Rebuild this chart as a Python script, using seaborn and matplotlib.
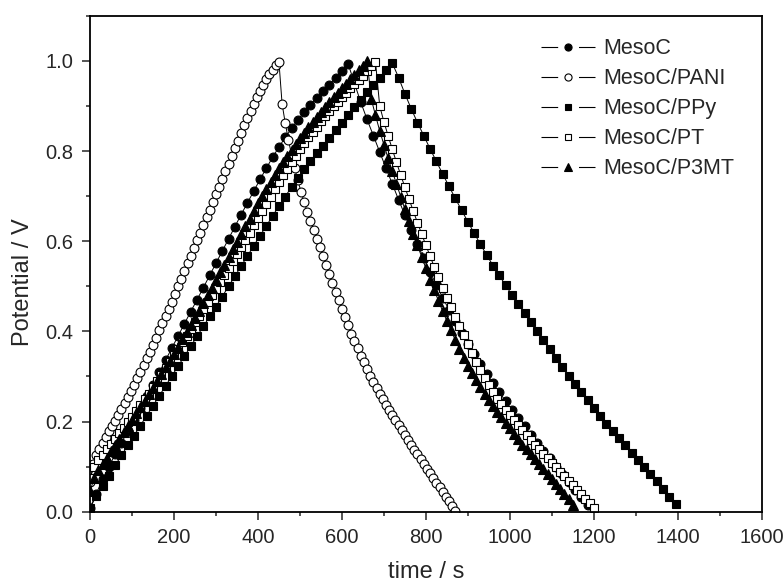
import numpy as np
import pandas as pd
import matplotlib
matplotlib.use("Agg")
import matplotlib.pyplot as plt
from matplotlib.lines import Line2D
from matplotlib.ticker import MultipleLocator, FormatStrFormatter
import seaborn as sns

# potentials (V) read at each recorded point; records are evenly spaced in time
mesoc_dt = 15
mesoc_charge = [0.008, 0.04, 0.072, 0.1, 0.127, 0.153, 0.179, 0.204, 0.23, 0.256,
                0.282, 0.309, 0.336, 0.363, 0.39, 0.417, 0.444, 0.47, 0.497, 0.524,
                0.551, 0.578, 0.605, 0.632, 0.659, 0.685, 0.711, 0.737, 0.762, 0.786,
                0.809, 0.83, 0.85, 0.869, 0.886, 0.902, 0.917, 0.932, 0.947, 0.962,
                0.977, 0.993]
mesoc_discharge = [0.95, 0.908, 0.87, 0.834, 0.798, 0.762, 0.727, 0.692, 0.658, 0.625,
                   0.593, 0.562, 0.532, 0.503, 0.475, 0.448, 0.422, 0.397, 0.373, 0.35,
                   0.328, 0.306, 0.285, 0.265, 0.245, 0.226, 0.207, 0.189, 0.171, 0.153,
                   0.135, 0.118, 0.1, 0.083, 0.066, 0.049, 0.032, 0.015]

pani_dt = 7.5
pani_charge = [0.065, 0.105, 0.125, 0.14, 0.153, 0.166, 0.178, 0.19, 0.202, 0.215,
               0.228, 0.241, 0.254, 0.268, 0.282, 0.296, 0.31, 0.325, 0.34, 0.355,
               0.37, 0.386, 0.402, 0.418, 0.434, 0.45, 0.466, 0.483, 0.5, 0.517,
               0.534, 0.551, 0.568, 0.585, 0.602, 0.619, 0.636, 0.653, 0.67, 0.687,
               0.704, 0.721, 0.738, 0.755, 0.772, 0.789, 0.806, 0.823, 0.84, 0.857,
               0.873, 0.889, 0.905, 0.92, 0.934, 0.947, 0.959, 0.97, 0.98, 0.99,
               0.998]
pani_discharge = [0.905, 0.862, 0.825, 0.792, 0.762, 0.735, 0.71, 0.687, 0.665, 0.645,
                  0.625, 0.605, 0.586, 0.567, 0.548, 0.528, 0.508, 0.488, 0.469, 0.45,
                  0.431, 0.413, 0.395, 0.378, 0.362, 0.346, 0.331, 0.316, 0.302, 0.288,
                  0.275, 0.262, 0.249, 0.237, 0.225, 0.214, 0.203, 0.192, 0.181, 0.17,
                  0.159, 0.148, 0.137, 0.127, 0.116, 0.106, 0.095, 0.085, 0.074, 0.064,
                  0.054, 0.043, 0.033, 0.023, 0.012, 0.002]

ppy_dt = 15
ppy_charge = [0.008, 0.035, 0.058, 0.08, 0.103, 0.125, 0.147, 0.169, 0.191, 0.213,
              0.235, 0.257, 0.279, 0.301, 0.323, 0.345, 0.367, 0.389, 0.411, 0.433,
              0.455, 0.477, 0.5, 0.522, 0.545, 0.567, 0.59, 0.612, 0.634, 0.656,
              0.678, 0.699, 0.72, 0.74, 0.759, 0.777, 0.795, 0.812, 0.829, 0.846,
              0.863, 0.88, 0.897, 0.914, 0.93, 0.946, 0.962, 0.979, 0.995]
ppy_discharge = [0.963, 0.927, 0.894, 0.863, 0.834, 0.805, 0.777, 0.749, 0.722, 0.695,
                 0.669, 0.643, 0.618, 0.593, 0.569, 0.546, 0.524, 0.502, 0.481, 0.461,
                 0.441, 0.421, 0.401, 0.381, 0.361, 0.341, 0.321, 0.302, 0.283, 0.265,
                 0.247, 0.229, 0.212, 0.195, 0.179, 0.163, 0.147, 0.131, 0.115, 0.099,
                 0.083, 0.067, 0.05, 0.033, 0.016]

pt_dt = 10
pt_charge = [0.075, 0.1, 0.114, 0.126, 0.138, 0.15, 0.162, 0.174, 0.186, 0.198,
             0.21, 0.223, 0.236, 0.249, 0.262, 0.276, 0.29, 0.304, 0.318, 0.332,
             0.347, 0.361, 0.376, 0.39, 0.405, 0.42, 0.435, 0.45, 0.465, 0.48,
             0.495, 0.51, 0.525, 0.54, 0.556, 0.571, 0.587, 0.603, 0.619, 0.635,
             0.651, 0.667, 0.683, 0.699, 0.715, 0.731, 0.746, 0.761, 0.776, 0.79,
             0.804, 0.817, 0.83, 0.842, 0.854, 0.866, 0.877, 0.888, 0.899, 0.909,
             0.919, 0.929, 0.939, 0.949, 0.958, 0.967, 0.977, 0.988, 0.998]
pt_discharge = [0.9, 0.865, 0.834, 0.804, 0.775, 0.747, 0.72, 0.693, 0.667, 0.641,
                0.616, 0.591, 0.567, 0.543, 0.52, 0.497, 0.475, 0.453, 0.432, 0.411,
                0.391, 0.371, 0.352, 0.333, 0.315, 0.297, 0.28, 0.265, 0.251, 0.238,
                0.226, 0.215, 0.204, 0.193, 0.182, 0.171, 0.16, 0.149, 0.139, 0.129,
                0.119, 0.109, 0.099, 0.089, 0.079, 0.069, 0.059, 0.049, 0.039, 0.029,
                0.019, 0.009]

p3mt_dt = 10
p3mt_charge = [0.045, 0.075, 0.092, 0.106, 0.12, 0.134, 0.148, 0.162, 0.176, 0.19,
               0.204, 0.218, 0.232, 0.246, 0.26, 0.275, 0.29, 0.305, 0.32, 0.335,
               0.35, 0.366, 0.382, 0.398, 0.414, 0.43, 0.446, 0.463, 0.48, 0.497,
               0.514, 0.531, 0.548, 0.565, 0.582, 0.599, 0.616, 0.633, 0.65, 0.667,
               0.684, 0.7, 0.716, 0.732, 0.747, 0.762, 0.776, 0.79, 0.803, 0.816,
               0.829, 0.841, 0.853, 0.865, 0.876, 0.887, 0.898, 0.909, 0.919, 0.929,
               0.939, 0.949, 0.959, 0.969, 0.979, 0.989, 0.999]
p3mt_discharge = [0.915, 0.879, 0.845, 0.814, 0.784, 0.755, 0.727, 0.699, 0.671, 0.644,
                  0.617, 0.591, 0.565, 0.54, 0.515, 0.491, 0.468, 0.445, 0.423, 0.402,
                  0.381, 0.361, 0.342, 0.324, 0.307, 0.291, 0.276, 0.262, 0.248, 0.235,
                  0.222, 0.209, 0.197, 0.185, 0.173, 0.161, 0.149, 0.138, 0.127, 0.116,
                  0.105, 0.094, 0.083, 0.072, 0.061, 0.05, 0.039, 0.028, 0.015]

samples = ["MesoC", "MesoC/PANI", "MesoC/PPy", "MesoC/PT", "MesoC/P3MT"]
records = [(mesoc_dt, mesoc_charge, mesoc_discharge),
           (pani_dt, pani_charge, pani_discharge),
           (ppy_dt, ppy_charge, ppy_discharge),
           (pt_dt, pt_charge, pt_discharge),
           (p3mt_dt, p3mt_charge, p3mt_discharge)]

frames = []
for name, (dt, charge, discharge) in zip(samples, records):
    v = charge + discharge
    frames.append(pd.DataFrame({"sample": name,
                                "time": dt * np.arange(len(v)),
                                "potential": v}))
df = pd.concat(frames, ignore_index=True)

# Origin-like look
sns.set_style("ticks")
plt.rcParams["font.family"] = ["Liberation Sans", "DejaVu Sans"]
plt.rcParams["lines.scale_dashes"] = False

markers = {"MesoC": ("o", "black", 6.4),
           "MesoC/PANI": ("o", "white", 6.4),
           "MesoC/PPy": ("s", "black", 5.5),
           "MesoC/PT": ("s", "white", 5.5),
           "MesoC/P3MT": ("^", "black", 6.6)}

fig = plt.figure(figsize=(7.84, 5.83), dpi=100)
ax = fig.add_axes([0.1148, 0.1223, 0.8568, 0.8507])

handles = []
for name in samples:
    m, face, ms = markers[name]
    sns.lineplot(data=df[df["sample"] == name], x="time", y="potential", ax=ax,
                 color="black", lw=0.7, marker=m, markersize=ms,
                 markerfacecolor=face, markeredgecolor="black", markeredgewidth=0.8,
                 estimator=None, sort=False, legend=False)
    handles.append(Line2D([], [], color="black", lw=0.8, dashes=(12, 15, 12, 40),
                          marker=m, markersize=ms * 0.8, markerfacecolor=face,
                          markeredgecolor="black", markeredgewidth=0.8, label=name))

ax.set_xlim(0, 1600)
ax.set_ylim(0, 1.1)
ax.xaxis.set_major_locator(MultipleLocator(200))
ax.xaxis.set_minor_locator(MultipleLocator(100))
ax.yaxis.set_major_locator(MultipleLocator(0.2))
ax.yaxis.set_minor_locator(MultipleLocator(0.1))
ax.yaxis.set_major_formatter(FormatStrFormatter("%.1f"))
ax.tick_params(which="major", direction="out", length=6, width=1.1,
               labelsize=14.5, pad=6, top=False, right=False)
ax.tick_params(which="minor", direction="out", length=3, width=1.1,
               top=False, right=False)
for s in ax.spines.values():
    s.set_linewidth(1.3)
    s.set_color("black")

ax.set_xlabel("time / s", fontsize=17, labelpad=10)
ax.set_ylabel("Potential / V", fontsize=17)
ax.yaxis.set_label_coords(-0.084, 0.463)

ax.legend(handles=handles, loc="upper left", bbox_to_anchor=(0.672, 0.955),
          frameon=False, fontsize=15.5, handlelength=2.5, handletextpad=0.35,
          labelspacing=0.42, borderpad=0, borderaxespad=0, numpoints=1)

fig.savefig("out.png", dpi=100)
